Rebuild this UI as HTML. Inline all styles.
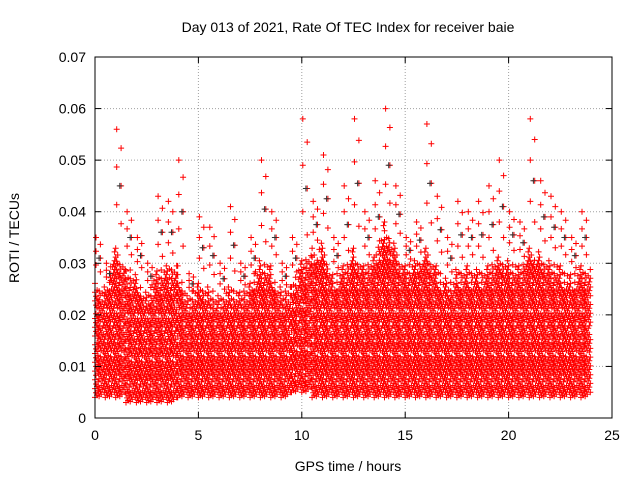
<!DOCTYPE html>
<html><head><meta charset="utf-8"><style>
body{margin:0;background:#fff}
svg{font-family:"Liberation Sans",sans-serif;font-size:14px}
</style></head><body>
<svg id="chart" width="640" height="480">
<text x="348" y="32" text-anchor="middle">Day 013 of 2021, Rate Of TEC Index for receiver baie</text>
<text x="348" y="471" text-anchor="middle">GPS time / hours</text>
<text transform="translate(19,238) rotate(-90)" text-anchor="middle">ROTI / TECUs</text>
<g id="grid"></g><g id="marks"></g><g id="axes"></g>
</svg>
<script>
const xTicks=[0,5,10,15,20,25];
const yTicks=[0,0.01,0.02,0.03,0.04,0.05,0.06,0.07];
const yTickLabels=["0","0.01","0.02","0.03","0.04","0.05","0.06","0.07"];
const binStart=[0,0.5,1,1.5,2,2.5,3,3.5,4,4.5,5,5.5,6,6.5,7,7.5,8,8.5,9,9.5,10,10.5,11,11.5,12,12.5,13,13.5,14,14.5,15,15.5,16,16.5,17,17.5,18,18.5,19,19.5,20,20.5,21,21.5,22,22.5,23,23.5];
const peakValues=[0.035,0.03,0.056,0.04,0.035,0.03,0.043,0.042,0.05,0.028,0.039,0.037,0.03,0.041,0.03,0.035,0.05,0.04,0.03,0.035,0.058,0.042,0.051,0.035,0.045,0.058,0.04,0.046,0.06,0.045,0.035,0.038,0.057,0.043,0.035,0.042,0.04,0.042,0.045,0.05,0.04,0.038,0.058,0.046,0.043,0.04,0.035,0.04];
const denseTop=[0.027,0.026,0.034,0.03,0.028,0.025,0.029,0.03,0.03,0.024,0.027,0.026,0.024,0.026,0.025,0.027,0.031,0.03,0.025,0.027,0.031,0.033,0.034,0.028,0.03,0.033,0.03,0.032,0.038,0.034,0.03,0.031,0.034,0.03,0.027,0.029,0.03,0.029,0.03,0.032,0.031,0.03,0.034,0.032,0.031,0.03,0.028,0.03];
const lowValues=[0.004,0.004,0.004,0.003,0.003,0.003,0.003,0.003,0.004,0.004,0.004,0.004,0.004,0.004,0.004,0.004,0.004,0.004,0.004,0.005,0.005,0.004,0.004,0.004,0.004,0.004,0.004,0.004,0.004,0.004,0.004,0.004,0.004,0.004,0.004,0.004,0.004,0.004,0.004,0.004,0.004,0.004,0.004,0.004,0.004,0.004,0.004,0.004];
const X0=95,X1=612,Y0=418,Y1=57;
const xs=v=>X0+(v/25)*(X1-X0);
const ys=v=>Y0-(v/0.07)*(Y0-Y1);
const NS="http://www.w3.org/2000/svg";
const grid=document.getElementById('grid'),axes=document.getElementById('axes'),marks=document.getElementById('marks');
function mk(tag,at,parent){const e=document.createElementNS(NS,tag);for(const k in at)e.setAttribute(k,at[k]);parent.appendChild(e);return e;}
xTicks.forEach((t,i)=>{
 if(i>0&&i<xTicks.length-1){const g=mk('line',{x1:xs(t),x2:xs(t),y1:Y0,y2:Y1,stroke:'#a0a0a0','stroke-dasharray':'1,2'},grid);
 
 }
 const tk=mk('text',{x:xs(t),y:Y0+22,'text-anchor':'middle'},axes);tk.textContent=t;
 
 
 mk('line',{x1:xs(t),x2:xs(t),y1:Y0,y2:Y0-6,stroke:'#000'},axes);mk('line',{x1:xs(t),x2:xs(t),y1:Y1,y2:Y1+6,stroke:'#000'},axes);
});
yTicks.forEach((t,i)=>{
 if(i>0&&i<yTicks.length-1){const g=mk('line',{x1:X0,x2:X1,y1:ys(t),y2:ys(t),stroke:'#a0a0a0','stroke-dasharray':'1,2'},grid);
 
 }
 const tk=mk('text',{x:X0-9,y:ys(t)+5,'text-anchor':'end'},axes);tk.textContent=yTickLabels[i];
 
 
 mk('line',{x1:X0,x2:X0+6,y1:ys(t),y2:ys(t),stroke:'#000'},axes);mk('line',{x1:X1,x2:X1-6,y1:ys(t),y2:ys(t),stroke:'#000'},axes);
});
const frame=mk('rect',{x:X0,y:Y1,width:X1-X0,height:Y0-Y1,fill:'none',stroke:'#000'},axes);


let d='',dk='';
function plus(x,y){return `M${(x-3).toFixed(1)} ${y.toFixed(1)}h6M${x.toFixed(1)} ${(y-3).toFixed(1)}v6`;}
const offs=[0,0.0009,0.0004,0.0013,0.0002,0.0011,0.0006,0.0015,0.0003,0.001];
const dips=[0,0.003,0.001,0.004,0.0005,0.002,0.0035,0.001,0.0025,0];
binStart.forEach((b,i)=>{
 const nb=i<binStart.length-1?i+1:i;
 for(let k=0;k<10;k++){
  const f=k/10, t=b+k*0.05, px=xs(t);
  const top=denseTop[i]*(1-f)+denseTop[nb]*f - dips[k];
  let c=0;
  for(let v=lowValues[i]+offs[k];v<=top;v+=0.0017){c++; if((c*3+k)%11===0) continue; d+=plus(px,ys(v));}
 }
 const span=peakValues[i]-denseTop[i];
 for(let j=1;j<=6;j++){
  const v=denseTop[i]+span*j/6, t=b+0.05+0.07*((j*3)%6);
  d+=plus(xs(t),ys(v));
 }
 dk+=plus(xs(b+0.2),ys((denseTop[i]+peakValues[i])/2));
});
const pr=mk('path',{d:d,stroke:'#ff0000','stroke-width':1,fill:'none'},marks);


const pk=mk('path',{d:dk,stroke:'#333','stroke-width':1,fill:'none'},marks);


</script>
</body></html>
